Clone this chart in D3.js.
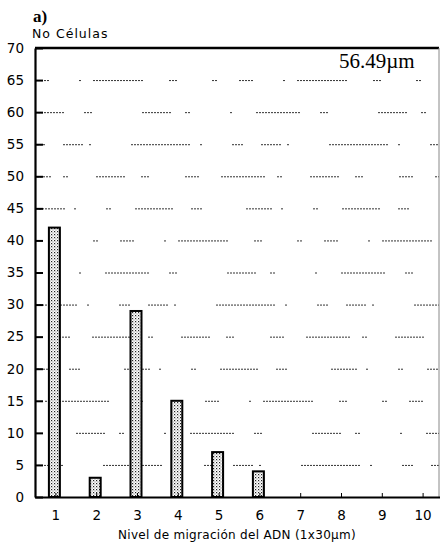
<!DOCTYPE html>
<html>
<head>
<meta charset="utf-8">
<script src="https://cdn.jsdelivr.net/npm/d3@7"></script>
<style>
  html, body { margin: 0; padding: 0; background: #fff; }
  svg { display: block; }
</style>
</head>
<body>
<svg id="chart" width="440" height="548"></svg>
<script>
// Migration levels (x 30 µm) and number of cells at each level
const levels = [1, 2, 3, 4, 5, 6, 7, 8, 9, 10];
const cellCounts = [42, 3, 29, 15, 7, 4, 0, 0, 0, 0];
const yTickValues = [0, 5, 10, 15, 20, 25, 30, 35, 40, 45, 50, 55, 60, 65, 70];
const gridValues = [5, 10, 15, 20, 25, 30, 35, 40, 45, 50, 55, 60, 65];

const svg = d3.select("#chart");
const plotLeft = 35, plotRight = 439, plotTop = 48, plotBottom = 497;
const sans = "'DejaVu Sans', sans-serif";

const x = d3.scaleLinear().domain([0.5, 10.5]).range([plotLeft, 443]);
const y = d3.scaleLinear().domain([0, 70]).range([plotBottom, plotTop]);

// dotted fill for the bars
const defs = svg.append("defs");
const pat = defs.append("pattern")
  .attr("id", "stipple").attr("patternUnits", "userSpaceOnUse")
  .attr("width", 3).attr("height", 3);
pat.append("rect").attr("width", 3).attr("height", 3).attr("fill", "#fff");
pat.append("rect").attr("x", 0).attr("y", 0).attr("width", 1.2).attr("height", 1.2).attr("fill", "#222");
pat.append("rect").attr("x", 1.5).attr("y", 1.5).attr("width", 1).attr("height", 1).attr("fill", "#666");

// broken, dotted horizontal guide lines: on/off runs, each "on" run drawn as fine dots
const runPatterns = [
  [22, 6, 3, 40, 60, 10, 4, 30, 12, 18],
  [8, 50, 30, 14, 6, 40, 3, 24, 44, 20],
  [16, 30, 4, 12, 50, 26, 10, 35, 7, 22],
  [5, 24, 40, 18, 12, 44, 28, 9, 3, 30],
  [30, 16, 8, 36, 14, 22, 46, 12, 5, 28]
];
function dotted(runs) {
  const out = [];
  runs.forEach((len, k) => {
    if (k % 2 === 0) {
      const n = Math.max(1, Math.round(len / 3));
      for (let j = 0; j < n; j++) out.push(2, j === n - 1 ? 0 : 1);
    } else {
      out.push(0, len);
    }
  });
  // merge into a valid on/off list
  const merged = [];
  for (let i = 0; i < out.length; i += 2) merged.push(out[i], out[i + 1]);
  return merged.join(",");
}
svg.append("g").selectAll("line").data(gridValues).join("line")
  .attr("x1", plotLeft).attr("x2", plotRight)
  .attr("y1", d => y(d) + 0.5).attr("y2", d => y(d) + 0.5)
  .attr("stroke", "#333").attr("stroke-width", 1)
  .attr("stroke-dasharray", (d, i) => dotted(runPatterns[i % runPatterns.length]))
  .attr("stroke-dashoffset", (d, i) => i * 17);

// bars
const barW = 11;
svg.append("g").selectAll("rect").data(levels.map((l, i) => ({ l, v: cellCounts[i] })).filter(d => d.v > 0))
  .join("rect")
  .attr("x", d => x(d.l) - barW / 2 - 1)
  .attr("y", d => y(d.v))
  .attr("width", barW)
  .attr("height", d => y(0) - y(d.v))
  .attr("fill", "url(#stipple)")
  .attr("stroke", "#000").attr("stroke-width", 2);

// frame: top and right edges
svg.append("line").attr("x1", plotLeft).attr("x2", plotRight).attr("y1", plotTop).attr("y2", plotTop)
  .attr("stroke", "#000").attr("stroke-width", 2.5);
svg.append("line").attr("x1", plotRight).attr("x2", plotRight).attr("y1", plotTop).attr("y2", plotBottom)
  .attr("stroke", "#888").attr("stroke-width", 1);

// y axis
const yAxis = d3.axisLeft(y).tickValues(yTickValues).tickSize(-8).tickPadding(11).tickSizeOuter(0);
const gy = svg.append("g").attr("transform", `translate(${plotLeft},0)`).call(yAxis);
gy.select(".domain").attr("stroke", "#000").attr("stroke-width", 2.2);
gy.selectAll(".tick line").attr("stroke", "#000").attr("stroke-width", 2);
gy.selectAll(".tick text").attr("font-family", sans).attr("font-size", 13.5).attr("fill", "#000");

// x axis
const xAxis = d3.axisBottom(x).tickValues(levels).tickSize(-4).tickPadding(13).tickSizeOuter(0);
const gx = svg.append("g").attr("transform", `translate(0,${plotBottom})`).call(xAxis);
gx.select(".domain").attr("stroke", "#000").attr("stroke-width", 2.2);
gx.selectAll(".tick line").attr("stroke", "#000").attr("stroke-width", 1);
gx.selectAll(".tick text").attr("font-family", sans).attr("font-size", 13.5).attr("fill", "#000");

// titles
svg.append("text").attr("x", 33).attr("y", 22)
  .attr("font-family", "'Liberation Serif', serif").attr("font-weight", "bold").attr("font-size", 17)
  .text("a)");
svg.append("text").attr("x", 32).attr("y", 38)
  .attr("font-family", sans).attr("font-size", 12.5).attr("letter-spacing", 1)
  .text("No Células");
svg.append("text").attr("x", 339).attr("y", 68)
  .attr("font-family", "'Liberation Serif', serif").attr("font-size", 21)
  .text("56.49µm");
svg.append("text").attr("x", 237).attr("y", 539).attr("text-anchor", "middle")
  .attr("font-family", sans).attr("font-size", 12).attr("letter-spacing", 0.3)
  .text("Nivel de migración del ADN (1x30µm)");
</script>
</body>
</html>
